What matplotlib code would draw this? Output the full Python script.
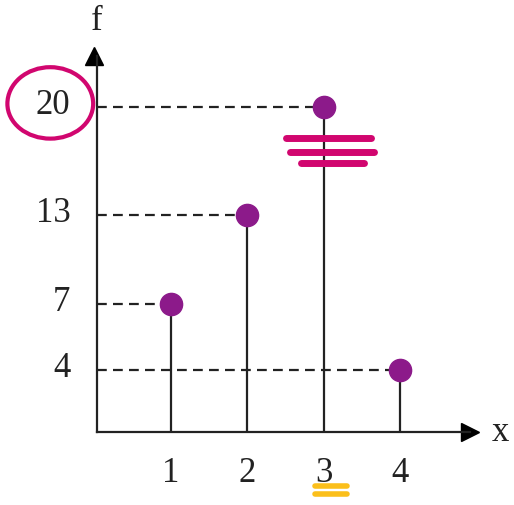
import numpy as np
import matplotlib.pyplot as plt
from matplotlib.patches import Ellipse
from matplotlib.transforms import ScaledTranslation

# %% data
x_vals = [1, 2, 3, 4]
f_vals = [7, 13, 20, 4]
x_ticks = [1, 2, 3, 4]
y_ticks = [4, 7, 13, 20]

# the sketch is not drawn to scale on the f axis, so use a piecewise scale
knot_val = [-20, 0, 4, 7, 13, 20, 40]
knot_pos = [-310, 0, 62, 128, 217, 325, 650]


def fwd(v):
    return np.interp(v, knot_val, knot_pos)


def inv(p):
    return np.interp(p, knot_pos, knot_val)


plt.rcParams['font.family'] = ['Liberation Serif', 'DejaVu Serif']

# %% figure
fig = plt.figure(figsize=(5.14, 5.06), dpi=100)
ax = fig.add_axes([97 / 514, 73 / 506, 373 / 514, 376 / 506])

ax.set_yscale('function', functions=(fwd, inv))
ax.set_xlim(0.04, 4.91)
ax.set_ylim(0, inv(376))

purple = '#8C1A8A'
pink = '#D1066F'
yellow = '#FBBF1B'
ink = '#222222'

# dashed guides from the f axis
for xv, fv in zip(x_vals, f_vals):
    ax.plot([0.04, xv], [fv, fv], color=ink, lw=1.6,
            dashes=(4.4, 2.8), zorder=1)

# stems and dots
ax.vlines(x_vals, 0, f_vals, color=ink, lw=1.6, zorder=2)
ax.plot(x_vals, f_vals, 'o', color=purple, ms=16, mec=purple, zorder=3)

# axes as arrows
for side in ['top', 'right']:
    ax.spines[side].set_visible(False)
for side in ['left', 'bottom']:
    ax.spines[side].set_linewidth(1.6)
    ax.spines[side].set_color(ink)
ax.plot(1, 0, '>', color='black', ms=13, transform=ax.get_yaxis_transform(),
        clip_on=False)
ax.plot(0, 1, '^', color='black', ms=13, transform=ax.get_xaxis_transform(),
        clip_on=False)

ax.set_xticks(x_ticks)
ax.set_yticks(y_ticks)
ax.tick_params(axis='both', length=0, labelsize=25, colors=ink)
ax.tick_params(axis='x', pad=17)
ax.tick_params(axis='y', pad=19)
shift = ScaledTranslation(0, 5 / 72, fig.dpi_scale_trans)
for lbl in ax.get_yticklabels():
    lbl.set_transform(lbl.get_transform() + shift)

fig.text(97 / 514, 1 - 22 / 506, 'f', fontsize=25, ha='center', va='center',
         color=ink)
fig.text(500 / 514, 1 - 433 / 506, 'x', fontsize=25, ha='center',
         va='center', color=ink)

# hand-drawn highlights
ax.add_patch(Ellipse((-0.57, 20.2), 1.12, 4.5, fill=False, ec=pink, lw=3,
                     clip_on=False))
for y0, x0, x1 in [(18.0, 2.51, 3.62), (17.1, 2.56, 3.66), (16.4, 2.70, 3.53)]:
    ax.plot([x0, x1], [y0, y0], color=pink, lw=5, solid_capstyle='round',
            clip_on=False, zorder=4)
for y0 in [-3.5, -4.0]:
    ax.plot([2.89, 3.3], [y0, y0], color=yellow, lw=4,
            solid_capstyle='round', clip_on=False)

fig.savefig('out.png', dpi=100)
